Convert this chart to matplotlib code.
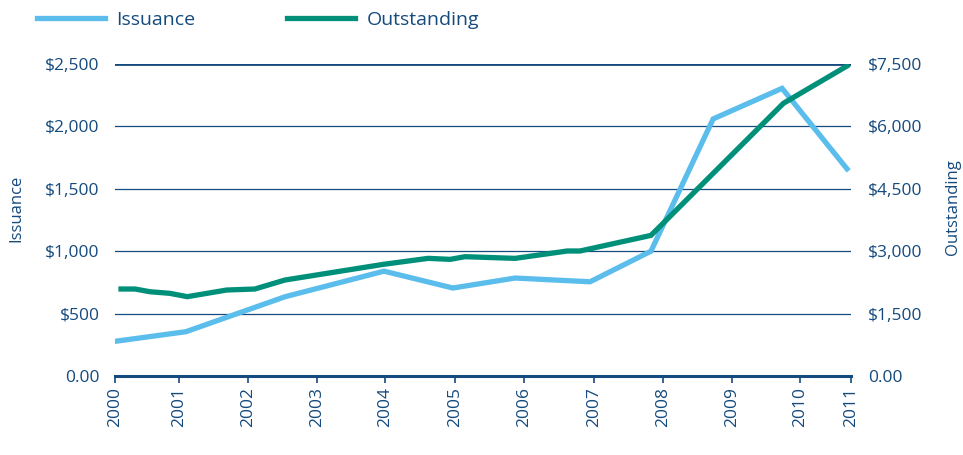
import matplotlib
matplotlib.use('Agg')
import matplotlib.pyplot as plt

# x positions in years after 2000
years = ['2000', '2001', '2002', '2003', '2004', '2005', '2006', '2007', '2008', '2009', '2010', '2011']
year_pos = [0, 0.96, 1.99, 3.02, 4.04, 5.08, 6.11, 7.16, 8.19, 9.22, 10.24, 11.0]

iss_x = [0.03, 1.06, 2.54, 4.02, 5.05, 5.98, 7.10, 8.01, 8.94, 9.97, 10.94]
iss_y = [280, 355, 635, 840, 705, 785, 755, 1000, 2060, 2305, 1660]

out_x = [0.09, 0.30, 0.52, 0.82, 1.08, 1.67, 2.09, 2.54, 4.01, 4.68, 5.01, 5.23, 5.98, 6.76, 6.95, 8.01, 9.99, 10.94]
out_y = [2091, 2091, 2026, 1987, 1907, 2067, 2091, 2307, 2684, 2828, 2804, 2868, 2828, 3005, 3005, 3380, 6555, 7452]

left_ticks = [0, 500, 1000, 1500, 2000, 2500]
left_labels = ['0.00', '$500', '$1,000', '$1,500', '$2,000', '$2,500']
right_ticks = [0, 1500, 3000, 4500, 6000, 7500]
right_labels = ['0.00', '$1,500', '$3,000', '$4,500', '$6,000', '$7,500']

navy = '#154a7e'
light = '#5bbdeb'
teal = '#00907a'

plt.rcParams['font.family'] = ['Open Sans', 'DejaVu Sans']

fig = plt.figure(figsize=(9.63, 4.55), dpi=100)
ax = fig.add_axes([115/963, 1-376/455, 736/963, 312/455])
ax2 = ax.twinx()

for t in left_ticks[1:]:
    ax.axhline(t, color=navy, lw=2.0 if t == 2500 else 0.9, zorder=1)

l1, = ax.plot(iss_x, iss_y, color=light, lw=3.8, solid_joinstyle='miter', label='Issuance', zorder=3)
l2, = ax2.plot(out_x, out_y, color=teal, lw=3.8, solid_joinstyle='miter', label='Outstanding', zorder=3)

ax.set_xlim(0, 11.0)
ax.set_ylim(0, 2500)
ax2.set_ylim(0, 7500)

for a in (ax, ax2):
    for s in a.spines.values():
        s.set_visible(False)
ax.spines['bottom'].set_visible(True)
ax.spines['bottom'].set_color(navy)
ax.spines['bottom'].set_linewidth(2.2)

ax.set_xticks(year_pos)
ax.set_xticklabels(years, rotation=90, fontsize=12.5, color=navy)
ax.tick_params(axis='x', colors=navy, length=5, width=1.2, pad=3)

ax.set_yticks(left_ticks)
ax.set_yticklabels(left_labels, fontsize=12.5, color=navy)
ax.tick_params(axis='y', length=0, pad=11)
ax2.set_yticks(right_ticks)
ax2.set_yticklabels(right_labels, fontsize=12.5, color=navy)
ax2.tick_params(axis='y', length=0, pad=12)

fig.text(16/963, 1-208/455, 'Issuance', rotation=90, ha='center', va='center', fontsize=12, color=navy)
fig.text(953/963, 1-207/455, 'Outstanding', rotation=90, ha='center', va='center', fontsize=12, color=navy)

fig.legend(handles=[l1, l2], loc='center left', bbox_to_anchor=(19/963, 1-20/455), ncol=2, frameon=False,
           fontsize=14, handlelength=3.5, handletextpad=0.6, columnspacing=4.7, labelcolor=navy)

fig.savefig('out.png', dpi=100)
